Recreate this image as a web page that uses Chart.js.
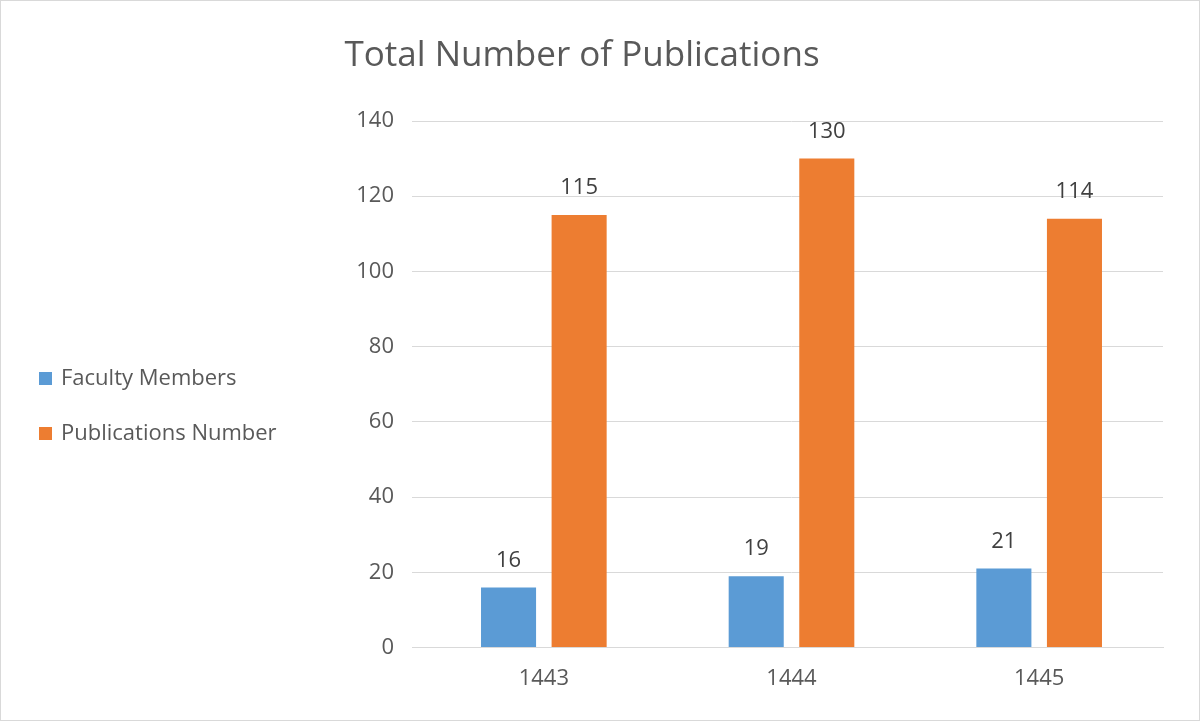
<!DOCTYPE html>
<html>
<head>
<meta charset="utf-8">
<script src="https://cdn.jsdelivr.net/npm/chart.js@4"></script>
<style>
  html, body { margin: 0; padding: 0; background: #fff; }
  #wrap { position: relative; width: 1198px; height: 719px; border: 1px solid #d9d9d9; font-family: "Open Sans", sans-serif; }
  #legend { position: absolute; left: 38px; top: 360px; color: #595959; font-size: 22px; }
  .item { height: 55px; display: flex; align-items: flex-start; }
  .box { width: 13px; height: 13px; margin: 11px 9px 0 0; }
</style>
</head>
<body>
<div id="wrap">
  <canvas id="chart" width="1198" height="719"></canvas>
  <div id="legend"></div>
</div>
<script>
// Données du graphique
const categories = ['1443', '1444', '1445'];
const facultyMembers = [16, 19, 21];
const publicationsNumber = [115, 130, 114];
const seriesNames = ['Faculty Members', 'Publications Number'];
const seriesColors = ['#5b9bd5', '#ed7d31'];
const FONT = '"Open Sans", sans-serif';

const legend = document.getElementById('legend');
seriesNames.forEach((name, i) => {
    const div = document.createElement('div');
    div.className = 'item';
    div.innerHTML = `<span class="box" style="background:${seriesColors[i]}"></span><span>${name}</span>`;
    legend.appendChild(div);
});

const valueLabels = {
    id: 'valueLabels',
    afterDatasetsDraw(chart) {
        const ctx = chart.ctx;
        ctx.save();
        ctx.font = '22px ' + FONT;
        ctx.fillStyle = '#404040';
        ctx.textAlign = 'center';
        ctx.textBaseline = 'bottom';
        chart.data.datasets.forEach((ds, i) => {
            chart.getDatasetMeta(i).data.forEach((bar, j) => {
                ctx.fillText(ds.data[j], bar.x, bar.y - 16);
            });
        });
        ctx.restore();
    }
};

const ctx = document.getElementById('chart').getContext('2d');
new Chart(ctx, {
    type: 'bar',
    data: {
        labels: categories,
        datasets: [
            { label: seriesNames[0], data: facultyMembers, backgroundColor: seriesColors[0], barPercentage: 0.78, categoryPercentage: 0.57 },
            { label: seriesNames[1], data: publicationsNumber, backgroundColor: seriesColors[1], barPercentage: 0.78, categoryPercentage: 0.57 }
        ]
    },
    options: {
        responsive: false,
        animation: false,
        layout: { padding: { left: 0, right: 36, bottom: 18 } },
        plugins: {
            legend: { display: false },
            tooltip: { enabled: false },
            title: {
                display: true,
                text: 'Total Number of Publications',
                color: '#595959',
                font: { size: 35, family: FONT, weight: 'normal' },
                padding: { top: 34, bottom: 44 }
            }
        },
        scales: {
            x: {
                grid: { display: false },
                border: { color: '#d9d9d9' },
                ticks: { color: '#595959', font: { size: 22, family: FONT }, padding: 10 }
            },
            y: {
                min: 0, max: 140,
                ticks: { stepSize: 20, color: '#595959', font: { size: 22, family: FONT }, padding: 18 },
                grid: { color: '#d9d9d9' },
                border: { display: false },
                afterFit(scale) { scale.width = 419; }
            }
        }
    },
    plugins: [valueLabels]
});
</script>
</body>
</html>
